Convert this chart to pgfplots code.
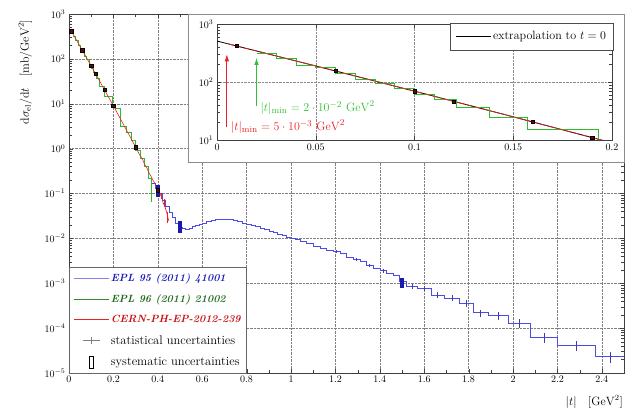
\documentclass[border=0pt]{standalone}
\usepackage{pgfplots}
\usepackage{pgfplotstable}
\pgfplotsset{compat=1.18}
\usetikzlibrary{arrows.meta}
\definecolor{HBlue}{HTML}{4B4BE6}
\definecolor{BoxBlue}{HTML}{1A1AA8}
\definecolor{HGreen}{HTML}{2EBB2E}
\definecolor{HRed}{HTML}{EE2020}
\definecolor{SysRed}{HTML}{5A0A0A}
\definecolor{LegBlue}{HTML}{8484F0}
\definecolor{LegGreen}{HTML}{2E8B2E}
\definecolor{TxtBlue}{HTML}{1A1AC0}
\definecolor{TxtGreen}{HTML}{1E6A1E}
\definecolor{TxtRed}{HTML}{C81010}
\definecolor{ArrGreen}{HTML}{33C033}

\pgfplotsset{
  legline/.style={legend image code/.code={\draw[##1] (0pt,0pt) -- (35pt,0pt);}},
  legstat/.style={legend image code/.code={\draw[gray] (9pt,0pt) -- (26pt,0pt);\draw[gray] (17.5pt,-3.5pt) -- (17.5pt,3.5pt);}},
  legsys/.style={legend image code/.code={\draw[black,line width=0.7pt] (16pt,-6pt) rectangle (19.5pt,6pt);}},
}
\newcommand{\legbi}{\fontsize{10.5}{12}\selectfont\bfseries\itshape}

% EPL 96 (2011) 21002, bins (left edge, value)
\pgfplotstableread{
t      v
0.02   318
0.03   258
0.04   196
0.05   176
0.06   143
0.07   113
0.08   96
0.09   77
0.10   61
0.11   51
0.121  36.5
0.138  24.8
0.157  15.0
0.193  9.5
0.21   7.8
0.23   3.1
0.26   2.3
0.28   1.55
0.30   0.9
0.32   0.6
0.34   0.4
0.355  0.22
0.37   0.065
}\greendata

% CERN-PH-EP-2012-239
\pgfplotstableread{
t      v
0.005  461
0.01   418
0.02   343
0.03   282
0.04   231
0.05   189
0.06   155
0.07   127
0.08   104
0.09   85
0.10   69.5
0.11   56.7
0.12   46.3
0.13   37.8
0.14   30.8
0.15   25.1
0.16   20.4
0.17   16.6
0.18   13.5
0.19   11.0
0.20   8.93
0.22   5.9
0.24   3.86
0.26   2.53
0.28   1.66
0.30   1.08
0.32   0.70
0.33   0.60
0.34   0.45
0.35   0.38
0.36   0.29
0.37   0.24
0.38   0.19
0.39   0.16
0.40   0.118
0.41   0.10
0.42   0.075
0.425  0.058
0.43   0.062
0.435  0.045
0.44   0.038
0.445  0.030
0.45   0.024
}\reddata

% EPL 95 (2011) 41001, bins (left edge, value)
\pgfplotstableread{
t      v
0.375  0.17
0.39   0.13
0.405  0.10
0.42   0.072
0.435  0.052
0.45   0.038
0.465  0.029
0.48   0.022
0.495  0.018
0.51   0.0165
0.525  0.0163
0.54   0.0172
0.555  0.0185
0.57   0.0198
0.585  0.021
0.60   0.0222
0.62   0.0235
0.64   0.0252
0.66   0.0262
0.68   0.0268
0.70   0.0266
0.72   0.026
0.74   0.0248
0.76   0.0236
0.78   0.0222
0.80   0.0208
0.82   0.0195
0.84   0.0182
0.86   0.0168
0.88   0.0157
0.90   0.0145
0.92   0.0135
0.94   0.0126
0.96   0.0117
0.98   0.0108
1.00   0.0101
1.02   0.0094
1.04   0.0087
1.07   0.0078
1.10   0.0068
1.13   0.0060
1.16   0.0055
1.19   0.0051
1.22   0.0046
1.25   0.0037
1.28   0.0034
1.31   0.0031
1.34   0.0025
1.37   0.0022
1.40   0.0019
1.43   0.0017
1.46   0.0015
1.49   0.0011
1.52   0.00085
1.57   0.00078
1.63   0.00055
1.69   0.00047
1.76   0.00036
1.82   0.00022
1.89   0.00019
1.98   0.00013
2.08   0.000063
2.20   0.000041
2.37   0.000023
2.50   0.000023
}\bluedata

\begin{document}
\begin{tikzpicture}
\useasboundingbox (-69pt,-39pt) rectangle (571pt,373pt);
\begin{axis}[
    at={(0pt,0pt)}, anchor=south west,
    scale only axis, width=555pt, height=359pt,
    xmin=0, xmax=2.5,
    ymode=log, ymin=1e-5, ymax=1e3,
    xtick={0,0.2,0.4,0.6,0.8,1,1.2,1.4,1.6,1.8,2,2.2,2.4},
    minor x tick num=1,
    ytick={1e-5,1e-4,1e-3,1e-2,1e-1,1,10,100,1000},
    grid=major,
    grid style={densely dotted, black!50},
    axis line style={black!75},
    tick style={black!75},
    label style={font=\fontsize{11.5}{13}\selectfont},
    xlabel={$|t|\quad[\mathrm{GeV}^2]$},
    xlabel style={at={(axis description cs:1,0)}, anchor=north east, yshift=-21pt, inner sep=1pt},
    ylabel={$\mathrm{d}\sigma_{\mathrm{el}}/\mathrm{d}t\quad[\mathrm{mb}/\mathrm{GeV}^2]$},
    ylabel style={at={(axis description cs:-0.079,0.838)}, anchor=center},
    legend style={at={(0,0)}, anchor=south west, draw=black!60, fill=white,
        font=\fontsize{12.5}{14}\selectfont,
        row sep=7.5pt, inner xsep=4pt, inner ysep=4pt},
    legend cell align=left,
]
\addlegendimage{legline, LegBlue, line width=0.7pt}
\addlegendentry{\textcolor{TxtBlue}{\legbi EPL 95 (2011) 41001}}
\addlegendimage{legline, LegGreen, line width=0.7pt}
\addlegendentry{\textcolor{TxtGreen}{\legbi EPL 96 (2011) 21002}}
\addlegendimage{legline, HRed, line width=0.7pt}
\addlegendentry{\textcolor{TxtRed}{\legbi CERN-PH-EP-2012-239}}
\addlegendimage{legstat}
\addlegendentry{statistical uncertainties}
\addlegendimage{legsys}
\addlegendentry{systematic uncertainties}

\addplot[const plot, HGreen, line width=0.6pt, forget plot] table[x=t, y=v] {\greendata};
\addplot[const plot, HBlue, line width=0.6pt, forget plot] table[x=t, y=v] {\bluedata};
\addplot[HRed, line width=0.6pt, forget plot] table[x=t, y=v] {\reddata};
% statistical uncertainties
\addplot[draw=none, forget plot, HBlue!80!black,
    error bars/.cd, y dir=both, y explicit, error mark=none,
    error bar style={line width=0.7pt}]
  coordinates {
    (1.205,0.0051) +- (0,0.0004)
    (1.295,0.0034) +- (0,0.0003)
    (1.355,0.0025) +- (0,0.0002)
    (1.415,0.0019) +- (0,0.00018)
    (1.545,0.00085) +- (0,0.0001)
    (1.60,0.00078) +- (0,0.0001)
    (1.66,0.00055) +- (0,0.00008)
    (1.725,0.00047) +- (0,0.00007)
    (1.79,0.00036) +- (0,0.00006)
    (1.855,0.00022) +- (0,0.00004)
    (1.935,0.00019) +- (0,0.00004)
    (2.03,0.00013) +- (0,0.00003)
    (2.14,0.000063) +- (0,0.000016)
    (2.285,0.000041) +- (0,0.00001)
    (2.44,0.000023) +- (0,0.0000065)
  };
\addplot[draw=none, forget plot, HRed,
    error bars/.cd, y dir=both, y explicit, error mark=none,
    error bar style={line width=0.6pt}]
  coordinates {
    (0.415,0.09) +- (0,0.015)
    (0.43,0.062) +- (0,0.012)
    (0.445,0.030) +- (0,0.008)
  };
% systematic uncertainties
\addplot[draw=none, forget plot, BoxBlue,
    error bars/.cd, y dir=both, y explicit, error mark=none,
    error bar style={line width=4pt}]
  coordinates {
    (0.4,0.12) +- (0,0.037)
    (0.5,0.019) +- (0,0.006)
    (1.5,0.00105) +- (0,0.00025)
  };
\addplot[only marks, forget plot, mark=square*, mark size=1.7pt,
    mark options={fill=SysRed, draw=black}]
  coordinates {(0.01,418) (0.06,155) (0.10,69.5) (0.12,46.3) (0.16,20.4) (0.20,8.93) (0.30,1.08) (0.40,0.118)};
\end{axis}

\draw[black!45, fill=white] (119pt,211pt) rectangle (555pt,359pt);

\begin{axis}[
    at={(148pt,233pt)}, anchor=south west,
    scale only axis, width=395pt, height=116pt,
    xmin=0, xmax=0.2,
    ymode=log, ymin=10, ymax=1000,
    xtick={0,0.05,0.1,0.15,0.2},
    xticklabels={0,0.05,0.1,0.15,0.2},
    ytick={10,100,1000},
    grid=major,
    grid style={densely dotted, black!45},
    axis line style={black!75},
    tick style={black!75},
    legend style={at={(1.003,1.01)}, anchor=north east, draw=black!70, fill=white,
        font=\fontsize{12}{14}\selectfont,
        inner xsep=5pt, inner ysep=6.5pt},
]
\addplot[black, line width=0.8pt, legline] coordinates {(0,508) (0.05,189) (0.1,69.5) (0.15,25.1) (0.2,8.93)};
\addlegendentry{extrapolation to $t=0$}
\addplot[const plot, HGreen, line width=0.7pt, forget plot] table[x=t, y=v] {\greendata};
\addplot[HRed, line width=0.7pt, dash pattern=on 7pt off 1.5pt, forget plot] table[x=t, y=v] {\reddata};
\addplot[only marks, forget plot, mark=square*, mark size=1.6pt,
    mark options={fill=SysRed, draw=black}]
  coordinates {(0.01,418) (0.06,155) (0.10,69.5) (0.12,46.3) (0.16,20.4) (0.19,11.0)};
\addplot[HRed, line width=0.8pt, -{Latex[length=7pt,width=4.5pt]}, forget plot]
  coordinates {(0.005,17) (0.005,300)};
\addplot[ArrGreen, line width=0.8pt, -{Latex[length=7pt,width=4.5pt]}, forget plot]
  coordinates {(0.02,39) (0.02,260)};
\node[anchor=west, text=ArrGreen, inner sep=1pt, font=\fontsize{13}{15}\selectfont] at (axis cs:0.0215,36)
  {$|t|_{\min}=2\cdot10^{-2}\ \mathrm{GeV}^2$};
\node[anchor=west, text=HRed, inner sep=1pt, font=\fontsize{12.5}{14}\selectfont] at (axis cs:0.0065,17)
  {$|t|_{\min}=5\cdot10^{-3}\ \mathrm{GeV}^2$};
\end{axis}
\end{tikzpicture}
\end{document}
